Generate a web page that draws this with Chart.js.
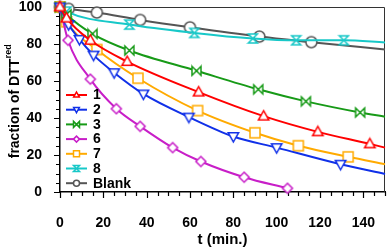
<!DOCTYPE html>
<html>
<head>
<meta charset="utf-8">
<script src="https://cdn.jsdelivr.net/npm/chart.js@4/dist/chart.umd.min.js"></script>
<style>
  html, body { margin: 0; padding: 0; background: #fff; }
  #wrap { width: 392px; height: 250px; }
</style>
</head>
<body>
<div id="wrap"><canvas id="chart"></canvas></div>
<script>
// values (t in minutes, fraction of DTT red in %)
const names = ['1', '2', '3', '6', '7', '8', 'Blank'];

const t1 = [0, 3, 14, 31, 64, 94, 119, 143];
const v1 = [100, 94, 82, 70.5, 54, 41, 32.5, 26];
const t2 = [0, 4, 9, 15.5, 25, 38.5, 59.5, 80, 100, 129.5];
const v2 = [100, 90.5, 82.5, 74, 64.5, 53, 40.5, 30, 24, 15];
const t3 = [0, 3, 15, 32, 63, 91.5, 113.5, 138.5];
const v3 = [100, 96, 85.5, 76.5, 65.5, 55.5, 49, 43];
const t6 = [0, 3.7, 14, 26, 37, 52, 65, 85, 105];
const v6 = [100, 82, 61, 45, 35.5, 24, 16.5, 8, 2];
const t7 = [0, 3, 17, 36, 63.5, 90, 110, 133];
const v7 = [100, 92, 77, 61.5, 44, 32, 25, 19];
const t8 = [0, 3, 32, 62, 89, 109, 131];
const v8 = [100, 97.5, 90.5, 86, 83, 82, 82];
const tB = [0, 4, 17, 37, 60, 92, 116];
const vB = [100, 99, 97, 93, 89, 84, 81];

// where each fitted curve meets the right edge (t = 150); series 6 stops early
const tEnd = 150;
const curveEnd = [24, 9.7, 40.7, null, 15, 80.8, 77];

const xTicks = [0, 20, 40, 60, 80, 100, 120, 140];
const yTicks = [0, 20, 40, 60, 80, 100];

const FONT = '"Liberation Sans", Arial, sans-serif';

function markerPath(ctx, kind, x, y, r) {
  ctx.beginPath();
  if (kind === 'up') {
    ctx.moveTo(x, y - r);
    ctx.lineTo(x + r * 0.95, y + r * 0.7);
    ctx.lineTo(x - r * 0.95, y + r * 0.7);
  } else if (kind === 'down') {
    ctx.moveTo(x, y + r);
    ctx.lineTo(x + r * 0.95, y - r * 0.7);
    ctx.lineTo(x - r * 0.95, y - r * 0.7);
  } else if (kind === 'bowtie') {
    ctx.moveTo(x - r, y - r);
    ctx.lineTo(x + r, y + r);
    ctx.lineTo(x + r, y - r);
    ctx.lineTo(x - r, y + r);
  } else if (kind === 'hourglass') {
    ctx.moveTo(x - r, y - r);
    ctx.lineTo(x + r, y - r);
    ctx.lineTo(x - r, y + r);
    ctx.lineTo(x + r, y + r);
  } else if (kind === 'diamond') {
    ctx.moveTo(x, y - r);
    ctx.lineTo(x + r, y);
    ctx.lineTo(x, y + r);
    ctx.lineTo(x - r, y);
  } else if (kind === 'square') {
    ctx.rect(x - r, y - r, 2 * r, 2 * r);
  } else {
    ctx.arc(x, y, r, 0, Math.PI * 2);
  }
  ctx.closePath();
}

function makeMarker(kind, color, r) {
  const c = document.createElement('canvas');
  const s = Math.ceil(2 * r + 4);
  c.width = s;
  c.height = s;
  const g = c.getContext('2d');
  markerPath(g, kind, s / 2, s / 2, r);
  g.fillStyle = '#fff';
  g.fill();
  g.strokeStyle = color;
  g.lineWidth = 1.5;
  g.stroke();
  return c;
}

const series = [
  { t: t1, v: v1, color: '#ff0000', marker: 'up', r: 5.5 },
  { t: t2, v: v2, color: '#1030e8', marker: 'down', r: 5.5 },
  { t: t3, v: v3, color: '#179a17', marker: 'bowtie', r: 4.5 },
  { t: t6, v: v6, color: '#c81ec8', marker: 'diamond', r: 5 },
  { t: t7, v: v7, color: '#ffaa00', marker: 'square', r: 5 },
  { t: t8, v: v8, color: '#17c8c8', marker: 'hourglass', r: 4.5 },
  { t: tB, v: vB, color: '#555555', marker: 'circle', r: 5.5 }
];

const datasets = series.map((s, i) => {
  const pts = s.t.map((t, k) => ({ x: t, y: s.v[k] }));
  if (curveEnd[i] !== null) pts.push({ x: tEnd, y: curveEnd[i] });
  const nMarkers = s.t.length;
  return {
    label: names[i],
    data: pts,
    borderColor: s.color,
    backgroundColor: '#fff',
    borderWidth: 2,
    pointStyle: makeMarker(s.marker, s.color, s.r),
    pointRadius: (ctx) => (ctx.dataIndex < nMarkers ? 5 : 0),
    cubicInterpolationMode: 'monotone',
    clip: false
  };
});

const decor = {
  id: 'decor',
  beforeDatasetsDraw(chart) {
    const { ctx, chartArea: a, scales: { x, y } } = chart;
    ctx.save();
    // frame on top and right
    ctx.strokeStyle = '#333';
    ctx.lineWidth = 1;
    ctx.beginPath();
    ctx.moveTo(a.left, a.top + 0.5);
    ctx.lineTo(a.right - 0.5, a.top + 0.5);
    ctx.lineTo(a.right - 0.5, a.bottom);
    ctx.stroke();
    // major and minor ticks, outward
    ctx.strokeStyle = '#000';
    ctx.lineWidth = 1.2;
    ctx.beginPath();
    for (let v = 0; v <= 150; v += 5) {
      const px = Math.round(x.getPixelForValue(v)) + 0.5;
      const len = v % 20 === 0 ? 6 : 4;
      ctx.moveTo(px, a.bottom);
      ctx.lineTo(px, a.bottom + len);
    }
    for (let v = 0; v <= 100; v += 5) {
      const py = Math.round(y.getPixelForValue(v)) + 0.5;
      const len = v % 20 === 0 ? 6 : 4;
      ctx.moveTo(a.left, py);
      ctx.lineTo(a.left - len, py);
    }
    ctx.stroke();
    ctx.restore();
  },
  afterDatasetsDraw(chart) {
    const { ctx, chartArea: a } = chart;
    ctx.save();
    // axis titles
    ctx.fillStyle = '#000';
    ctx.font = 'bold 15px ' + FONT;
    ctx.textAlign = 'center';
    ctx.textBaseline = 'middle';
    ctx.fillText('t (min.)', (a.left + a.right) / 2, 240);

    ctx.translate(14, (a.top + a.bottom) / 2 + 2);
    ctx.rotate(-Math.PI / 2);
    ctx.font = 'bold 14px ' + FONT;
    const main = 'fraction of DTT';
    const wMain = ctx.measureText(main).width;
    ctx.font = 'bold 9px ' + FONT;
    const wSup = ctx.measureText('red').width;
    const x0 = -(wMain + wSup) / 2;
    ctx.textAlign = 'left';
    ctx.textBaseline = 'alphabetic';
    ctx.font = 'bold 14px ' + FONT;
    ctx.fillText(main, x0, 5);
    ctx.font = 'bold 9px ' + FONT;
    ctx.fillText('red', x0 + wMain + 0.5, -3);
    ctx.restore();

    // legend inside the plot, bottom left
    ctx.save();
    ctx.font = 'bold 14px ' + FONT;
    ctx.textAlign = 'left';
    ctx.textBaseline = 'middle';
    series.forEach((s, i) => {
      const yy = 95 + i * 14.7;
      ctx.strokeStyle = s.color;
      ctx.lineWidth = 2;
      ctx.beginPath();
      ctx.moveTo(66, yy);
      ctx.lineTo(87, yy);
      ctx.stroke();
      markerPath(ctx, s.marker, 76.5, yy, 3);
      ctx.fillStyle = '#fff';
      ctx.fill();
      ctx.lineWidth = 1.5;
      ctx.stroke();
      ctx.fillStyle = '#000';
      ctx.fillText(names[i], 93, yy + 0.5);
    });
    ctx.restore();
  }
};

new Chart(document.getElementById('chart'), {
  type: 'line',
  data: { datasets },
  options: {
    responsive: true,
    maintainAspectRatio: false,
    animation: false,
    devicePixelRatio: 1,
    layout: { padding: { top: 7, right: 1, left: 0, bottom: 0 } },
    plugins: { legend: { display: false }, tooltip: { enabled: false } },
    scales: {
      x: {
        type: 'linear',
        min: 0,
        max: 150,
        afterFit: (s) => { s.height = 58; s.paddingLeft = 0; s.paddingRight = 0; },
        afterBuildTicks: (s) => { s.ticks = xTicks.map((v) => ({ value: v })); },
        grid: { display: false },
        border: { display: true, color: '#000', width: 1.5 },
        ticks: { color: '#000', padding: 15, maxRotation: 0, font: { family: FONT, size: 14, weight: 'bold' } }
      },
      y: {
        min: 0,
        max: 100,
        afterFit: (s) => { s.width = 60; s.paddingTop = 0; s.paddingBottom = 0; },
        afterBuildTicks: (s) => { s.ticks = yTicks.map((v) => ({ value: v })); },
        grid: { display: false },
        border: { display: true, color: '#000', width: 1.5 },
        ticks: { color: '#000', padding: 10, font: { family: FONT, size: 14, weight: 'bold' } }
      }
    }
  },
  plugins: [decor]
});
</script>
</body>
</html>
